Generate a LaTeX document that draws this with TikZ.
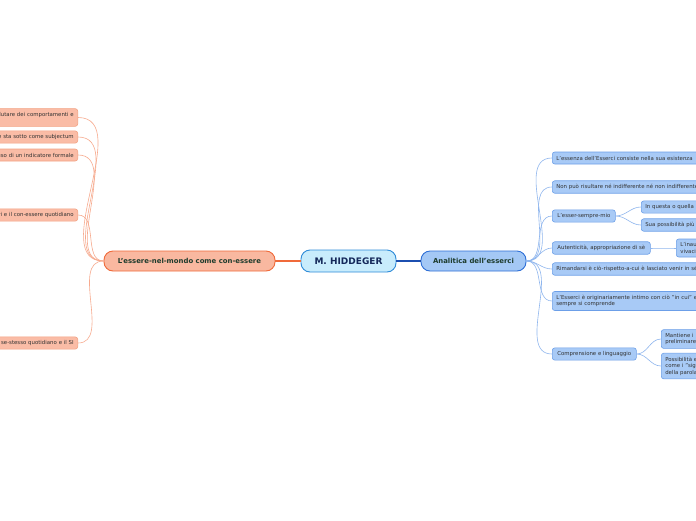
\documentclass[tikz,border=0pt]{standalone}
\usepackage{fontspec}
\setmainfont{DejaVu Sans}
\definecolor{cfill}{HTML}{C8ECFC}
\definecolor{cbord}{HTML}{2E8BD8}
\definecolor{rmfill}{HTML}{A4C8F5}
\definecolor{rmbord}{HTML}{2E6FD6}
\definecolor{rcfill}{HTML}{A8CAF6}
\definecolor{rcbord}{HTML}{6C9FE8}
\definecolor{rline}{HTML}{8FB6EE}
\definecolor{rmain}{HTML}{1C4FB0}
\definecolor{lmfill}{HTML}{F9B8A0}
\definecolor{lmbord}{HTML}{F06A3A}
\definecolor{lcfill}{HTML}{FABCA6}
\definecolor{lcbord}{HTML}{F3A283}
\definecolor{lline}{HTML}{F7AA8E}
\definecolor{txt}{HTML}{1D3B2C}
\definecolor{ctxt}{HTML}{14285A}
\definecolor{ktxt}{HTML}{333333}
\tikzset{
  base/.style={rounded corners=2.5pt, line width=0.6pt, inner xsep=4pt, inner ysep=3.5pt,
    font=\fontsize{5.4}{6.6}\selectfont, text=ktxt, minimum height=12pt},
  rnode/.style={base, fill=rcfill, draw=rcbord, anchor=west, align=center},
  rclip/.style={base, fill=rcfill, draw=rcbord, anchor=west, text width=160pt, align=left},
  lnode/.style={base, fill=lcfill, draw=lcbord, anchor=east, text width=120pt, align=right},
  rl/.style={draw=rline, line width=0.6pt},
  ll/.style={draw=lline, line width=0.6pt},
  mainbox/.style={rounded corners=9pt, line width=0.9pt, minimum height=20pt,
    font=\fontsize{6.9}{8}\selectfont\bfseries, text=txt, inner sep=2pt}
}
\begin{document}
\begin{tikzpicture}[x=1pt,y=-1pt]
\useasboundingbox (0,0) rectangle (696,520);
\fill[white] (0,0) rectangle (696,520);
\clip (0,0) rectangle (696,520);
% central and main nodes
\node[rounded corners=9pt, line width=0.9pt, fill=cfill, draw=cbord, minimum width=95pt, minimum height=22pt,
  font=\fontsize{9}{10}\selectfont\bfseries, text=ctxt] (c) at (348.5,261) {M. HIDDEGER};
\node[mainbox, fill=lmfill, draw=lmbord, minimum width=171pt] (lm) at (189.5,261) {L'essere-nel-mondo come con-essere};
\node[mainbox, fill=rmfill, draw=rmbord, minimum width=105pt] (rm) at (473.5,261) {Analitica dell'esserci};
\draw[draw=lmbord, line width=1.1pt] (c.west) -- (lm.east);
\draw[draw=rmain, line width=1.1pt] (c.east) -- (rm.west);
% left children
\node[lnode] (l1) at (78,117.5) {valutare dei comportamenti e\\ \mbox{}};
\node[lnode] (l2) at (78,137) {che sta sotto come subjectum};
\node[lnode] (l3) at (78,155) {uso di un indicatore formale};
\node[lnode] (l4) at (78,215) {altri e il con-essere quotidiano};
\node[lnode] (l5) at (78,343) {Il se-stesso quotidiano e il SI};
\foreach \n in {l1,l2,l3,l4,l5} \draw[ll] (lm.west) to[out=180,in=0] (\n.east);
% right children
\node[rclip] (r1) at (552,158) {L'essenza dell'Esserci consiste nella sua esistenza};
\node[rclip] (r2) at (552,187) {Non può risultare né indifferente né non indifferente};
\node[rnode, minimum width=63pt] (r3) at (552,216) {L'esser-sempre-mio};
\node[rnode, minimum width=98pt] (r4) at (552,248) {Autenticità, appropriazione di sè};
\node[rclip] (r5) at (552,269) {Rimandarsi è ciò-rispetto-a-cui è lasciato venir in sé};
\node[rclip] (r6) at (552,301) {L'Esserci è originariamente intimo con ciò "in cui" egli\\sempre si comprende};
\node[rnode, minimum width=84pt] (r7) at (552,354) {Comprensione e linguaggio};
\foreach \n in {r1,r2,r3,r4,r5,r6,r7} \draw[rl] (rm.east) to[out=0,in=180] (\n.west);
% grandchildren
\node[rclip, text width=80pt] (r31) at (641,207) {In questa o quella};
\node[rclip, text width=80pt] (r32) at (641,225) {Sua possibilità più};
\node[rclip, text width=80pt] (r41) at (676,248) {L'inautenticità\\vivacità};
\node[rclip, text width=80pt] (r71) at (661,339) {Mantiene i\\preliminare};
\node[rclip, text width=80pt] (r72) at (661,366) {Possibilità e\\come i "significati"\\della parola};
\draw[rl] (r3.east) to[out=0,in=180] (r31.west);
\draw[rl] (r3.east) to[out=0,in=180] (r32.west);
\draw[rl] (r4.east) to[out=0,in=180] (r41.west);
\draw[rl] (r7.east) to[out=0,in=180] (r71.west);
\draw[rl] (r7.east) to[out=0,in=180] (r72.west);
\end{tikzpicture}
\end{document}
